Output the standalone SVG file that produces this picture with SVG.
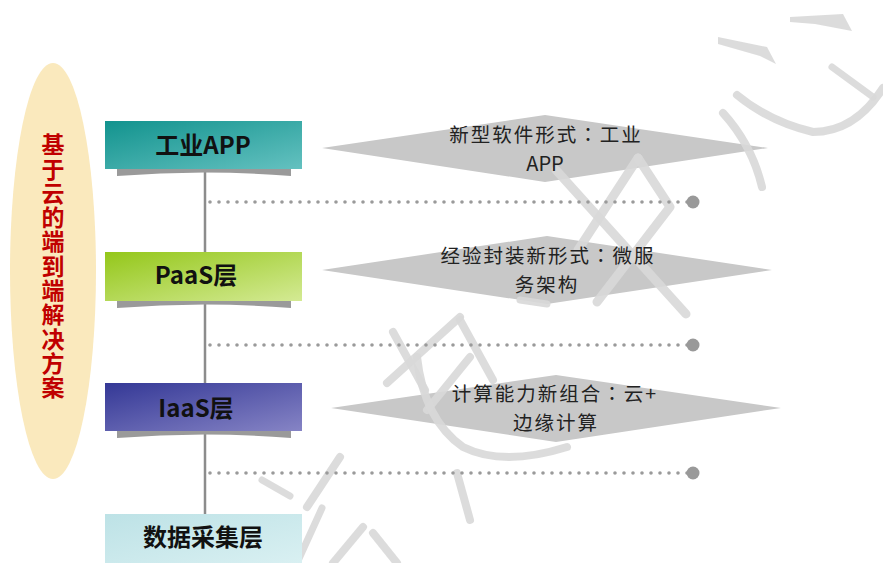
<svg xmlns="http://www.w3.org/2000/svg" width="883" height="563" viewBox="0 0 883 563">
<defs>
<linearGradient id="g1" x1="0" y1="0" x2="1" y2="1"><stop offset="0" stop-color="#12938e"/><stop offset="1" stop-color="#64c1c0"/></linearGradient>
<linearGradient id="g2" x1="0" y1="0" x2="1" y2="1"><stop offset="0" stop-color="#94c71a"/><stop offset="1" stop-color="#d4ea94"/></linearGradient>
<linearGradient id="g3" x1="0" y1="0" x2="1" y2="1"><stop offset="0" stop-color="#343896"/><stop offset="1" stop-color="#8684c5"/></linearGradient>
<linearGradient id="g4" x1="0" y1="0" x2="1" y2="1"><stop offset="0" stop-color="#bde2e6"/><stop offset="1" stop-color="#d9f0f2"/></linearGradient>
</defs>
<style>
.box-t{font-family:"Noto Sans CJK SC","Noto Sans",sans-serif;font-weight:700;font-size:24px;fill:#111;text-anchor:middle}
.dia{fill:#c8c8c8}
.dia-t{font-family:"Noto Sans CJK SC","Noto Sans",sans-serif;font-size:19.5px;letter-spacing:2px;fill:#222;text-anchor:middle}
.lat{letter-spacing:0;font-size:20px}
.colon{font-family:"Noto Sans CJK TC",sans-serif}
.shadow{fill:#9a9a9a}
.wm{fill:none;stroke:#d8d8d8;stroke-opacity:0.9;stroke-linecap:round;stroke-linejoin:round}
.wmf{fill:#d8d8d8;fill-opacity:0.9}
.dots{stroke:#9a9a9a;stroke-width:3.6;stroke-linecap:round;stroke-dasharray:0 9}
.end{fill:#999}
.title{font-family:"Noto Sans CJK SC",sans-serif;font-weight:700;font-size:23px;fill:#c00000;writing-mode:vertical-rl;text-orientation:upright;letter-spacing:1.3px}
</style>
<rect width="883" height="563" fill="#fff"/>

<g id="title-ellipse">
<ellipse cx="53" cy="271" rx="43" ry="208" fill="#fae9bd"/>
<text class="title" x="53" y="133">基于云的端到端解决方案</text>
</g>

<g id="diamond-1"><polygon class="dia" points="322,148 545,115 768,148 545,182"/></g>
<g id="diamond-2"><polygon class="dia" points="322,270 547,236 772,270 547,304"/></g>
<g id="diamond-3"><polygon class="dia" points="331,408 556,375 781,408 556,442"/></g>

<g id="watermark">
<polygon class="wmf" points="790,17 843,14 852,31 815,24 790,22"/>
<polygon class="wmf" points="718,37 767,47 776,64 760,56 718,44"/>
<path class="wm" stroke-width="8" d="M737,95 Q770,122 813,132 Q855,132 883,88"/>
<path class="wm" stroke-width="7" d="M832,67 L873,97"/>
<path class="wm" stroke-width="8" d="M723,113 Q752,145 762,187"/>
<path class="wm" stroke-width="9" d="M556,170 L686,314"/>
<path class="wm" stroke-width="9" d="M638,158 L670,207 L597,302"/>
<path class="wm" stroke-width="9" d="M638,158 L578,250"/>
<path class="wm" stroke-width="8" d="M393,332 L425,390"/>
<path class="wm" stroke-width="8" d="M460,317 L387,383"/>
<path class="wm" stroke-width="8" d="M460,320 L493,380"/>
<path class="wm" stroke-width="8" d="M470,357 L427,410"/>
<path class="wm" stroke-width="8" d="M417,357 Q424,420 463,447 Q503,467 567,447"/>
<path class="wm" stroke-width="8" d="M457,473 L470,520"/>
<path class="wm" stroke-width="8" d="M340,457 L307,507"/>
<path class="wm" stroke-width="7" d="M262,480 L290,496"/>
<path class="wm" stroke-width="8" d="M363,527 L333,563"/>
<path class="wm" stroke-width="8" d="M373,533 L397,563"/>
<path class="wm" stroke-width="7" d="M322,508 L297,563"/>
<path class="wm" stroke-width="7" d="M520,300 L547,304"/>
</g>

<g id="connectors">
<line x1="205" y1="169" x2="205" y2="514" stroke="#8c8c8c" stroke-width="2.5"/>
<line class="dots" x1="210" y1="202" x2="688" y2="202"/>
<circle class="end" cx="693" cy="202" r="6.5"/>
<line class="dots" x1="210" y1="345" x2="688" y2="345"/>
<circle class="end" cx="693" cy="345" r="6.5"/>
<line class="dots" x1="210" y1="473" x2="688" y2="473"/>
<circle class="end" cx="693" cy="473" r="6.5"/>
</g>

<g id="box-app">
<path class="shadow" d="M117,169 L291,169 L291,176 Q204,169 117,176 Z"/>
<rect x="105" y="121" width="197" height="48" fill="url(#g1)"/>
<text class="box-t" x="203" y="154">工业APP</text>
</g>
<g id="box-paas">
<path class="shadow" d="M117,301 L291,301 L291,308 Q204,301 117,308 Z"/>
<rect x="105" y="252" width="197" height="49" fill="url(#g2)"/>
<text class="box-t" x="196" y="284">PaaS层</text>
</g>
<g id="box-iaas">
<path class="shadow" d="M117,431 L291,431 L291,438 Q204,431 117,438 Z"/>
<rect x="105" y="383" width="197" height="48" fill="url(#g3)"/>
<text class="box-t" x="196" y="417">IaaS层</text>
</g>
<g id="box-data">
<rect x="105" y="514" width="197" height="49" fill="url(#g4)"/>
<text class="box-t" x="203" y="546">数据采集层</text>
</g>

<g id="diamond-texts">
<text class="dia-t"><tspan x="546" y="142">新型软件形式<tspan class="colon">：</tspan>工业</tspan><tspan class="lat" x="545" y="170.5">APP</tspan></text>
<text class="dia-t"><tspan x="548" y="263">经验封装新形式<tspan class="colon">：</tspan>微服</tspan><tspan x="547" y="291.5">务架构</tspan></text>
<text class="dia-t"><tspan x="555" y="401">计算能力新组合<tspan class="colon">：</tspan>云+</tspan><tspan x="556" y="429.5">边缘计算</tspan></text>
</g>
</svg>
